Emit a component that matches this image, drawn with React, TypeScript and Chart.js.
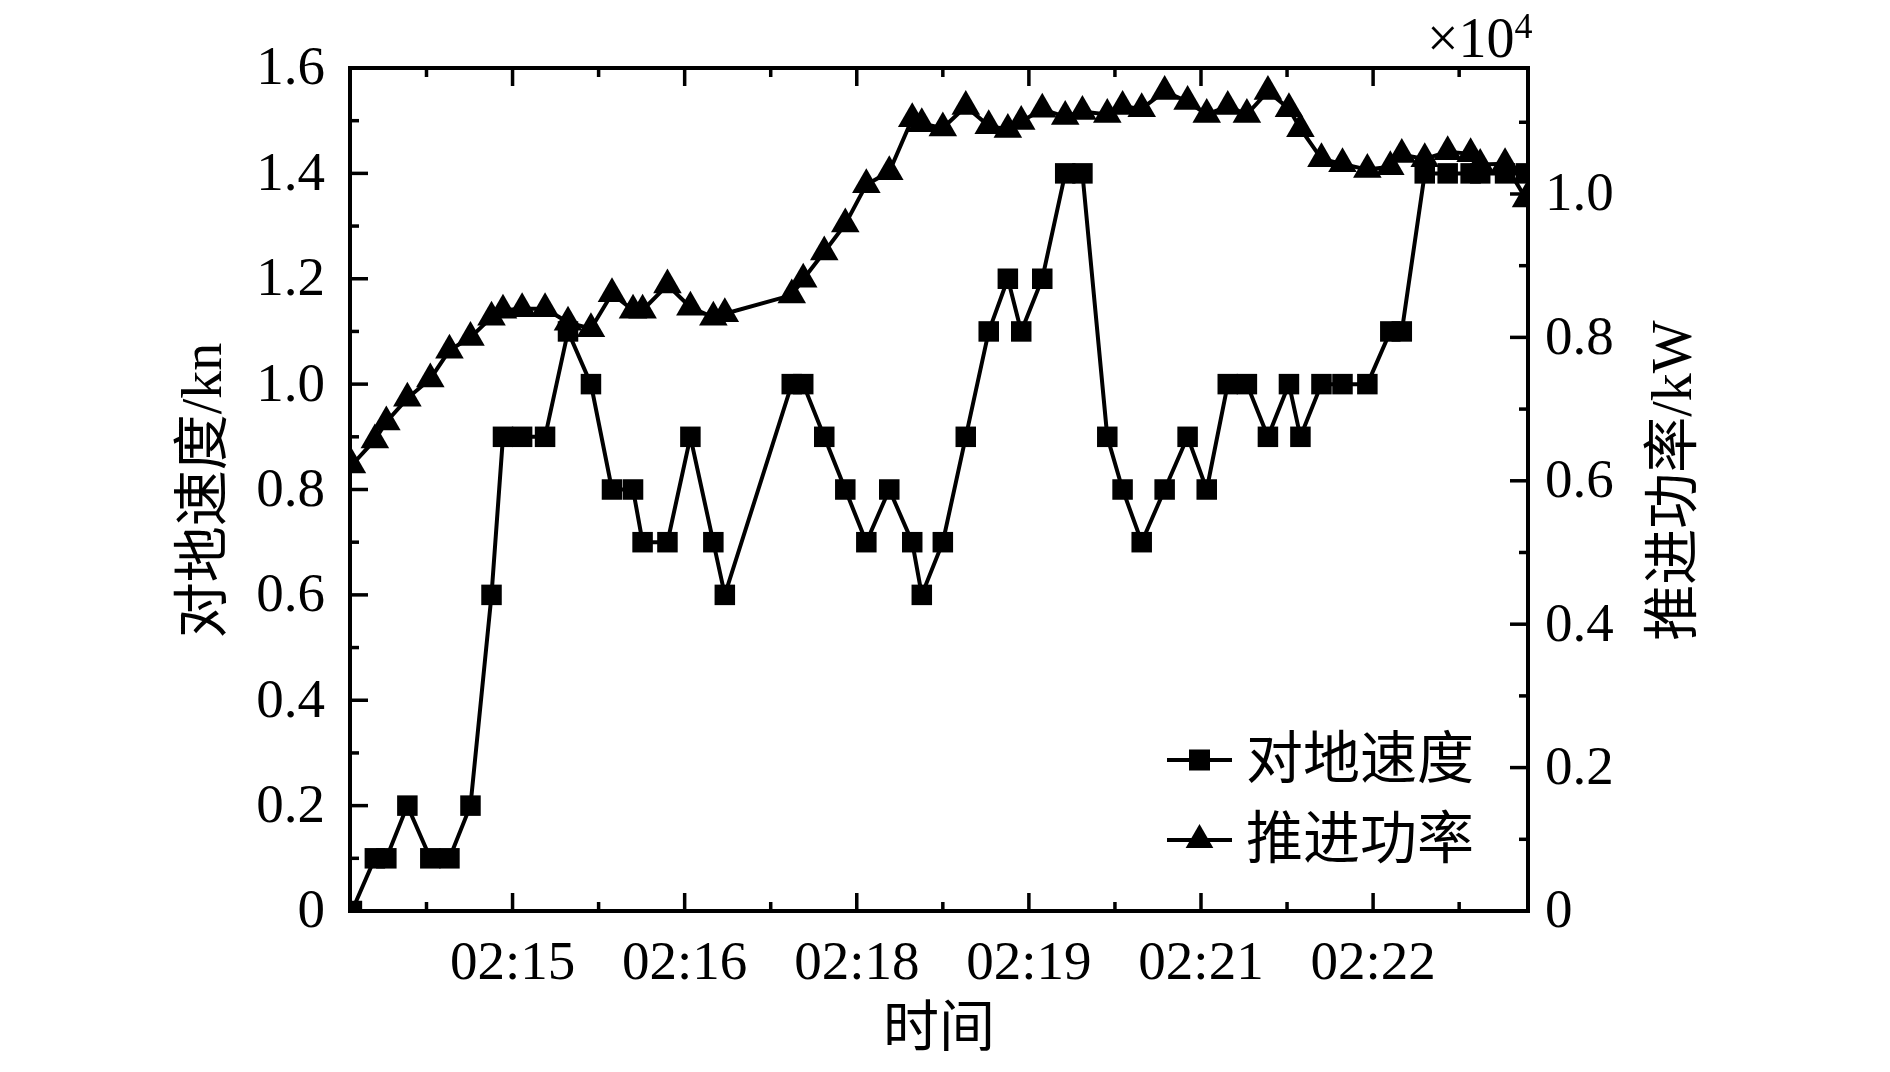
import React, { useEffect, useRef } from 'react';
import { Chart, registerables } from 'chart.js';

Chart.register(...registerables);

// ---- data ----
const times = [
  '02:13:36', '02:13:48', '02:13:54', '02:14:05', '02:14:17', '02:14:27', '02:14:38', '02:14:49', '02:14:55', '02:15:05',
  '02:15:17', '02:15:29', '02:15:41', '02:15:52', '02:16:03', '02:16:08', '02:16:21', '02:16:33', '02:16:45', '02:16:51',
  '02:17:26', '02:17:32', '02:17:43', '02:17:54', '02:18:05', '02:18:17', '02:18:29', '02:18:34', '02:18:45', '02:18:57',
  '02:19:09', '02:19:19', '02:19:26', '02:19:37', '02:19:49', '02:19:58', '02:20:11', '02:20:19', '02:20:29', '02:20:41',
  '02:20:53', '02:21:03', '02:21:14', '02:21:24', '02:21:35', '02:21:46', '02:21:52', '02:22:03', '02:22:14', '02:22:27',
  '02:22:39', '02:22:45', '02:22:57', '02:23:09', '02:23:21', '02:23:26', '02:23:39', '02:23:50',
];

const speed = [
  0, 0.1, 0.1, 0.2, 0.1, 0.1, 0.2, 0.6, 0.9, 0.9,
  0.9, 1.1, 1.0, 0.8, 0.8, 0.7, 0.7, 0.9, 0.7, 0.6,
  1.0, 1.0, 0.9, 0.8, 0.7, 0.8, 0.7, 0.6, 0.7, 0.9,
  1.1, 1.2, 1.1, 1.2, 1.4, 1.4, 0.9, 0.8, 0.7, 0.8,
  0.9, 0.8, 1.0, 1.0, 0.9, 1.0, 0.9, 1.0, 1.0, 1.0,
  1.1, 1.1, 1.4, 1.4, 1.4, 1.4, 1.4, 1.4,
];

const power = [
  6220, 6570, 6820, 7150, 7420, 7820, 8000, 8280, 8380, 8400,
  8400, 8210, 8120, 8610, 8380, 8380, 8730, 8420, 8280, 8330,
  8590, 8810, 9190, 9580, 10130, 10310, 11050, 10980, 10920, 11220,
  10950, 10900, 11010, 11180, 11080, 11150, 11110, 11220, 11190, 11430,
  11290, 11110, 11220, 11110, 11430, 11190, 10910, 10490, 10420, 10340,
  10380, 10550, 10490, 10590, 10560, 10410, 10420, 9930,
];

const xTickTimes = ['02:15:00', '02:16:30', '02:18:00', '02:19:30', '02:21:00', '02:22:30'];
const xTickLabels = ['02:15', '02:16', '02:18', '02:19', '02:21', '02:22'];
const leftTickLabels = ['0', '0.2', '0.4', '0.6', '0.8', '1.0', '1.2', '1.4', '1.6'];
const rightTickLabels = ['0', '0.2', '0.4', '0.6', '0.8', '1.0'];
const xRange = ['02:13:35', '02:23:51'];
const rightMax = 11757;
const rightMultiplier = 10000;

const seriesNames = ['对地速度', '推进功率'];
const xTitle = '时间';
const leftTitle = '对地速度/kn';
const rightTitle = '推进功率/kW';

// ---- helpers ----
const toSec = (t: string) => {
  const [h, m, s] = t.split(':').map(Number);
  return h * 3600 + m * 60 + s;
};

const FONT = '"Liberation Serif", "Noto Sans CJK SC", serif';
const LINE_W = 4;

const framePlugin = {
  id: 'framePlugin',
  afterDatasetsDraw(chart: any) {
    const { ctx, chartArea } = chart;
    const { left, right, top, bottom } = chartArea;
    const xs = chart.scales.x;
    const yl = chart.scales.y;
    const yr = chart.scales.y1;
    ctx.save();
    ctx.strokeStyle = '#000';
    ctx.lineWidth = 4;
    ctx.lineCap = 'butt';
    ctx.strokeRect(left, top, right - left, bottom - top);

    const major = 18;
    const minor = 9;
    ctx.lineWidth = 3.5;
    const line = (x1: number, y1: number, x2: number, y2: number) => {
      ctx.beginPath();
      ctx.moveTo(x1, y1);
      ctx.lineTo(x2, y2);
      ctx.stroke();
    };

    // x ticks (bottom & top)
    const xMaj = xTickTimes.map(toSec);
    const half = (xMaj[1] - xMaj[0]) / 2;
    const xMin = xMaj.map((v) => v - half).concat([xMaj[xMaj.length - 1] + half]);
    xMaj.forEach((v) => {
      const px = xs.getPixelForValue(v);
      line(px, bottom, px, bottom - major);
      line(px, top, px, top + major);
    });
    xMin.forEach((v) => {
      if (v < xs.min || v > xs.max) return;
      const px = xs.getPixelForValue(v);
      line(px, bottom, px, bottom - minor);
      line(px, top, px, top + minor);
    });

    // left ticks
    const lMaj = leftTickLabels.map(parseFloat);
    lMaj.forEach((v, i) => {
      const py = yl.getPixelForValue(v);
      line(left, py, left + major, py);
      if (i < lMaj.length - 1) {
        const pm = yl.getPixelForValue((v + lMaj[i + 1]) / 2);
        line(left, pm, left + minor, pm);
      }
    });

    // right ticks
    const rMaj = rightTickLabels.map((s) => parseFloat(s) * rightMultiplier);
    const rStep = rMaj[1] - rMaj[0];
    rMaj.forEach((v) => {
      const py = yr.getPixelForValue(v);
      line(right, py, right - major, py);
      const mv = v + rStep / 2;
      if (mv <= yr.max) {
        const pm = yr.getPixelForValue(mv);
        line(right, pm, right - minor, pm);
      }
    });
    ctx.restore();
  },
  afterDraw(chart: any) {
    const { ctx, chartArea } = chart;
    const { left, right, top, bottom } = chartArea;
    ctx.save();
    ctx.fillStyle = '#000';
    ctx.strokeStyle = '#000';

    // axis titles
    ctx.font = `56px ${FONT}`;
    ctx.textAlign = 'center';
    ctx.textBaseline = 'middle';
    ctx.fillText(xTitle, (left + right) / 2, bottom + 120);

    ctx.save();
    ctx.translate(left - 144, (top + bottom) / 2 + 1);
    ctx.rotate(-Math.PI / 2);
    ctx.fillText(leftTitle, 0, 0);
    ctx.restore();

    ctx.save();
    ctx.translate(right + 148, (top + bottom) / 2 - 9);
    ctx.rotate(-Math.PI / 2);
    ctx.fillText(rightTitle, 0, 0);
    ctx.restore();

    // x10^4 multiplier
    ctx.textAlign = 'left';
    ctx.textBaseline = 'alphabetic';
    ctx.font = `56px ${FONT}`;
    const base = '×10';
    const bx = right - 101;
    ctx.fillText(base, bx, top - 11);
    const w = ctx.measureText(base).width;
    ctx.font = `36px ${FONT}`;
    ctx.fillText('4', bx + w, top - 30);

    // legend
    const lx1 = right - 361;
    const lx2 = right - 296;
    const lmx = (lx1 + lx2) / 2;
    const rows = [bottom - 151, bottom - 71];
    ctx.lineWidth = LINE_W;
    rows.forEach((ry, i) => {
      ctx.beginPath();
      ctx.moveTo(lx1, ry);
      ctx.lineTo(lx2, ry);
      ctx.stroke();
      if (i === 0) {
        ctx.fillRect(lmx - 10.5, ry - 10.5, 21, 21);
      } else {
        const r = 16;
        ctx.beginPath();
        ctx.moveTo(lmx, ry - r);
        ctx.lineTo(lmx + r * 0.866, ry + r / 2);
        ctx.lineTo(lmx - r * 0.866, ry + r / 2);
        ctx.closePath();
        ctx.fill();
      }
      ctx.font = `57px ${FONT}`;
      ctx.textBaseline = 'middle';
      ctx.fillText(seriesNames[i], right - 282, ry + 3);
    });
    ctx.restore();
  },
};

export default function App() {
  const ref = useRef<HTMLCanvasElement | null>(null);

  useEffect(() => {
    if (!ref.current) return;
    const tickFont = { family: FONT, size: 55 };
    const chart = new Chart(ref.current, {
      type: 'line',
      data: {
        datasets: [
          {
            label: seriesNames[0],
            data: times.map((t, i) => ({ x: toSec(t), y: speed[i] })),
            yAxisID: 'y',
            borderColor: '#000',
            backgroundColor: '#000',
            borderWidth: LINE_W,
            pointStyle: 'rect',
            pointRadius: 14.5,
            pointBorderWidth: 0,
            pointBackgroundColor: '#000',
            tension: 0,
          },
          {
            label: seriesNames[1],
            data: times.map((t, i) => ({ x: toSec(t), y: power[i] })),
            yAxisID: 'y1',
            borderColor: '#000',
            backgroundColor: '#000',
            borderWidth: LINE_W,
            pointStyle: 'triangle',
            pointRadius: 16.5,
            pointBorderWidth: 0,
            pointBackgroundColor: '#000',
            tension: 0,
          },
        ],
      },
      options: {
        animation: false,
        responsive: false,
        layout: { padding: { top: 68, left: 0, right: 0, bottom: 0 } },
        plugins: { legend: { display: false }, tooltip: { enabled: false } },
        scales: {
          x: {
            type: 'linear',
            position: 'bottom',
            min: toSec(xRange[0]),
            max: toSec(xRange[1]),
            grid: { display: false, drawTicks: false, tickLength: 0 },
            border: { display: false },
            afterBuildTicks: (s: any) => {
              s.ticks = xTickTimes.map((t) => ({ value: toSec(t) }));
            },
            afterFit: (s: any) => {
              s.height = 161;
            },
            ticks: {
              autoSkip: false,
              maxRotation: 0,
              minRotation: 0,
              padding: 21,
              color: '#000',
              font: tickFont,
              callback: (_v: any, i: number) => xTickLabels[i],
            },
          },
          y: {
            type: 'linear',
            position: 'left',
            min: 0,
            max: parseFloat(leftTickLabels[leftTickLabels.length - 1]),
            grid: { display: false, drawTicks: false, tickLength: 0 },
            border: { display: false },
            afterBuildTicks: (s: any) => {
              s.ticks = leftTickLabels.map((l) => ({ value: parseFloat(l) }));
            },
            afterFit: (s: any) => {
              s.width = 350;
            },
            ticks: {
              autoSkip: false,
              padding: 25,
              labelOffset: 2,
              color: '#000',
              font: tickFont,
              callback: (_v: any, i: number) => leftTickLabels[i],
            },
          },
          y1: {
            type: 'linear',
            position: 'right',
            min: 0,
            max: rightMax,
            grid: { display: false, drawTicks: false, tickLength: 0 },
            border: { display: false },
            afterBuildTicks: (s: any) => {
              s.ticks = rightTickLabels.map((l) => ({ value: parseFloat(l) * rightMultiplier }));
            },
            afterFit: (s: any) => {
              s.width = 362;
            },
            ticks: {
              autoSkip: false,
              padding: 17,
              labelOffset: 2,
              color: '#000',
              font: tickFont,
              callback: (_v: any, i: number) => rightTickLabels[i],
            },
          },
        },
      },
      plugins: [framePlugin],
    });
    return () => chart.destroy();
  }, []);

  return (
    <div style={{ position: 'absolute', left: 0, top: 0, width: 1890, height: 1072, background: '#fff' }}>
      <canvas ref={ref} width={1890} height={1072} style={{ width: 1890, height: 1072, display: 'block' }} />
    </div>
  );
}
